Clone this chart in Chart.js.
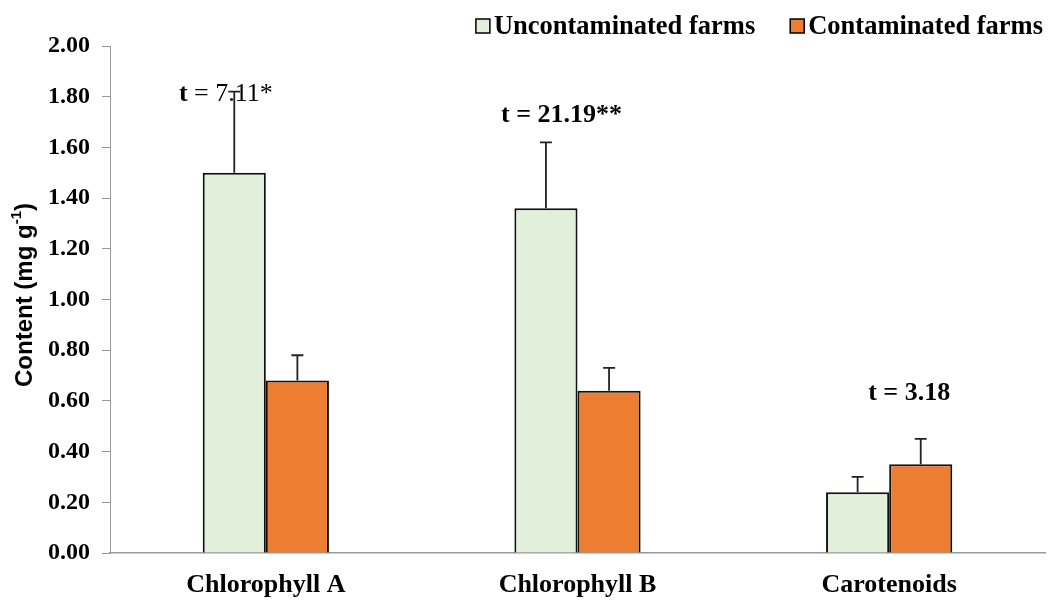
<!DOCTYPE html>
<html><head><meta charset="utf-8">
<script src="https://cdn.jsdelivr.net/npm/chart.js@4"></script>
<style>html,body{margin:0;padding:0;background:#fff}</style>
</head><body>
<canvas id="c" width="1052" height="600"></canvas>
<script>
const categories = ['Chlorophyll A', 'Chlorophyll B', 'Carotenoids'];
const seriesNames = ['Uncontaminated farms', 'Contaminated farms'];
const uncontaminated = [1.50, 1.36, 0.24];
const contaminated = [0.68, 0.64, 0.35];
const uncontaminatedErr = [0.32, 0.26, 0.06];
const contaminatedErr = [0.10, 0.09, 0.10];
const tValues = ['7.11*', '21.19**', '3.18'];
const tLabelLevel = [1.81, 1.725, 0.63];
const yTickValues = [0, 0.2, 0.4, 0.6, 0.8, 1.0, 1.2, 1.4, 1.6, 1.8, 2.0];
const yTitle = 'Content (mg g';
const yTitleSup = '-1';

const SERIF = '"Liberation Serif", "Times New Roman", serif';
const SANS = '"Liberation Sans", Arial, sans-serif';
const errs = [uncontaminatedErr, contaminatedErr];

const overlay = {
  id: 'overlay',
  afterDatasetsDraw(chart) {
    const ctx = chart.ctx;
    const x = chart.scales.x, y = chart.scales.y;
    ctx.save();
    // t annotations
    const offsets = [-40, -16, 20];
    ctx.fillStyle = '#000';
    ctx.textBaseline = 'middle';
    categories.forEach((c, i) => {
      const cx = x.getPixelForValue(i) + offsets[i];
      const cy = y.getPixelForValue(tLabelLevel[i]);
      const bold = 'bold 26px ' + SERIF;
      const normal = '26px ' + SERIF;
      const parts = i === 0 ? [['t', bold], [' = ' + tValues[i], normal]] : [['t = ' + tValues[i], bold]];
      let total = 0;
      parts.forEach(p => { ctx.font = p[1]; total += ctx.measureText(p[0]).width; });
      let px = cx - total / 2;
      ctx.textAlign = 'left';
      parts.forEach(p => { ctx.font = p[1]; ctx.fillText(p[0], px, cy); px += ctx.measureText(p[0]).width; });
    });
    // error bars
    ctx.strokeStyle = '#222';
    ctx.lineWidth = 1.8;
    chart.data.datasets.forEach((ds, di) => {
      const meta = chart.getDatasetMeta(di);
      meta.data.forEach((bar, i) => {
        const top = y.getPixelForValue(ds.data[i] + errs[di][i]);
        ctx.beginPath();
        ctx.moveTo(bar.x, bar.y);
        ctx.lineTo(bar.x, top);
        ctx.moveTo(bar.x - 6, top);
        ctx.lineTo(bar.x + 6, top);
        ctx.stroke();
      });
    });
    // legend (right aligned)
    ctx.font = 'bold 26.5px ' + SERIF;
    ctx.textBaseline = 'middle';
    ctx.textAlign = 'left';
    const legY = 26, box = 14, gap = 4, itemGap = 35;
    const dsets = chart.data.datasets;
    const widths = dsets.map(d => box + gap + ctx.measureText(d.label).width);
    let lx = 1043 - widths.reduce((a, b) => a + b, 0) - itemGap * (dsets.length - 1);
    dsets.forEach((d, i) => {
      ctx.fillStyle = d.backgroundColor;
      ctx.fillRect(lx, legY - box / 2, box, box);
      ctx.strokeStyle = '#000';
      ctx.lineWidth = 1.5;
      ctx.strokeRect(lx, legY - box / 2, box, box);
      ctx.fillStyle = '#000';
      ctx.fillText(d.label, lx + box + gap, legY + 1);
      lx += widths[i] + itemGap;
    });
    // y title
    ctx.translate(24, 295);
    ctx.rotate(-Math.PI / 2);
    ctx.font = 'bold 24px ' + SANS;
    const w1 = ctx.measureText(yTitle).width;
    ctx.font = 'bold 15px ' + SANS;
    const w2 = ctx.measureText(yTitleSup).width;
    ctx.font = 'bold 24px ' + SANS;
    const w3 = ctx.measureText(')').width;
    let sx = -(w1 + w2 + w3) / 2;
    ctx.textBaseline = 'alphabetic';
    ctx.fillText(yTitle, sx, 8); sx += w1;
    ctx.font = 'bold 15px ' + SANS;
    ctx.fillText(yTitleSup, sx, -3); sx += w2;
    ctx.font = 'bold 24px ' + SANS;
    ctx.fillText(')', sx, 8);
    ctx.restore();
  }
};

new Chart(document.getElementById('c'), {
  type: 'bar',
  data: {
    labels: categories,
    datasets: [
      { label: seriesNames[0], data: uncontaminated, backgroundColor: '#E2EFDA', borderColor: '#111', borderWidth: 2, categoryPercentage: 0.405, barPercentage: 1 },
      { label: seriesNames[1], data: contaminated, backgroundColor: '#ED7D31', borderColor: '#111', borderWidth: 2, categoryPercentage: 0.405, barPercentage: 1 }
    ]
  },
  options: {
    responsive: false,
    animation: false,
    layout: { padding: { top: 46, right: 7, left: 0, bottom: 0 } },
    plugins: {
      legend: { display: false },
      tooltip: { enabled: false }
    },
    scales: {
      x: {
        grid: { display: false, drawTicks: false },
        border: { color: '#999', width: 1.5 },
        ticks: { color: '#000', padding: 17, font: { family: SERIF, size: 26, weight: 'bold' } },
        afterFit: s => { s.height = 47; }
      },
      y: {
        min: 0, max: 2,
        afterBuildTicks: s => { s.ticks = yTickValues.map(v => ({ value: v })); },
        grid: { drawOnChartArea: false, drawTicks: true, tickLength: 8, color: '#999', lineWidth: 1 },
        border: { color: '#999', width: 1 },
        ticks: { color: '#000', padding: 12, font: { family: SERIF, size: 24, weight: 'bold' }, callback: v => Number(v).toFixed(2) },
        afterFit: s => { s.width = 110; }
      }
    }
  },
  plugins: [overlay]
});
</script>
</body></html>
